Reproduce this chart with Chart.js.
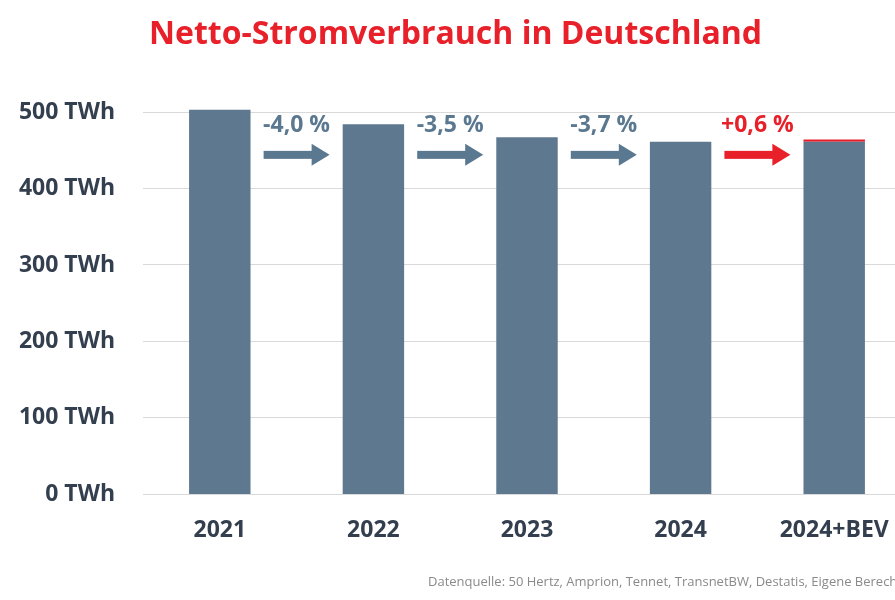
<!DOCTYPE html>
<html><head><meta charset="utf-8">
<script src="https://cdn.jsdelivr.net/npm/chart.js@4"></script>
<style>html,body{margin:0;padding:0;overflow:hidden;background:#fff}#w{width:920px;height:600px;position:relative}</style>
</head><body><div id="w"><canvas id="c"></canvas></div>
<script>
const categories=['2021','2022','2023','2024','2024+BEV'];
const baseValues=[503,484,467,461,461];
const bevValues=[0,0,0,0,3];
const changeLabels=['-4,0 %','-3,5 %','-3,7 %','+0,6 %'];
const changeColors=['#5b7891','#5b7891','#5b7891','#e8202a'];
const yTicks=[0,100,200,300,400,500];
const gray='#5e7890', red='#e8202a', dark='#333f4f';
const arrows={id:'arrows',afterDatasetsDraw(ch){
  const ctx=ch.ctx,x=ch.scales.x,y=ch.scales.y;
  ctx.save();
  for(let i=0;i<changeLabels.length;i++){
    const x0=x.getPixelForValue(i),x1=x.getPixelForValue(i+1);
    const cx=(x0+x1)/2, c=changeColors[i];
    const ay=y.getPixelForValue(444);
    ctx.fillStyle=c;
    const l=cx-33,r=cx+33;
    ctx.fillRect(l,ay-4,r-l-16,8);
    ctx.beginPath();ctx.moveTo(r-18,ay-11);ctx.lineTo(r,ay);ctx.lineTo(r-18,ay+11);ctx.closePath();ctx.fill();
    ctx.font='bold 23px "Open Sans"';ctx.textAlign='center';ctx.textBaseline='middle';
    ctx.fillText(changeLabels[i],cx,y.getPixelForValue(483));
  }
  ctx.font='13px "Open Sans"';ctx.fillStyle='#8a8a8a';ctx.textAlign='left';
  ctx.fillText('Datenquelle: 50 Hertz, Amprion, Tennet, TransnetBW, Destatis, Eigene Berechnung',428,582);
  ctx.restore();
}};
new Chart(document.getElementById('c'),{type:'bar',
 data:{labels:categories,datasets:[
  {data:baseValues,backgroundColor:gray,barPercentage:0.4,categoryPercentage:1},
  {data:bevValues,backgroundColor:red,barPercentage:0.4,categoryPercentage:1}]},
 options:{responsive:true,maintainAspectRatio:false,animation:false,
  layout:{padding:{left:0,right:9,top:0,bottom:42}},
  plugins:{legend:{display:false},tooltip:{enabled:false},
   title:{display:true,text:'Netto-Stromverbrauch in Deutschland',color:red,font:{family:'Open Sans',size:32,weight:'bold'},padding:{top:16,bottom:50}}},
  scales:{
   x:{stacked:true,grid:{display:false},border:{display:false},ticks:{color:dark,font:{family:'Open Sans',size:23,weight:'bold'},padding:14}},
   y:{stacked:true,min:0,max:510,afterBuildTicks(a){a.ticks=yTicks.map(v=>({value:v}));},
    grid:{color:'#d9d9d9',drawTicks:false},border:{display:false},
    ticks:{color:dark,font:{family:'Open Sans',size:23,weight:'bold'},padding:28,callback:v=>v+' TWh'},
    afterFit(s){s.width=143;}}
  }}, plugins:[arrows]});
</script></body></html>
